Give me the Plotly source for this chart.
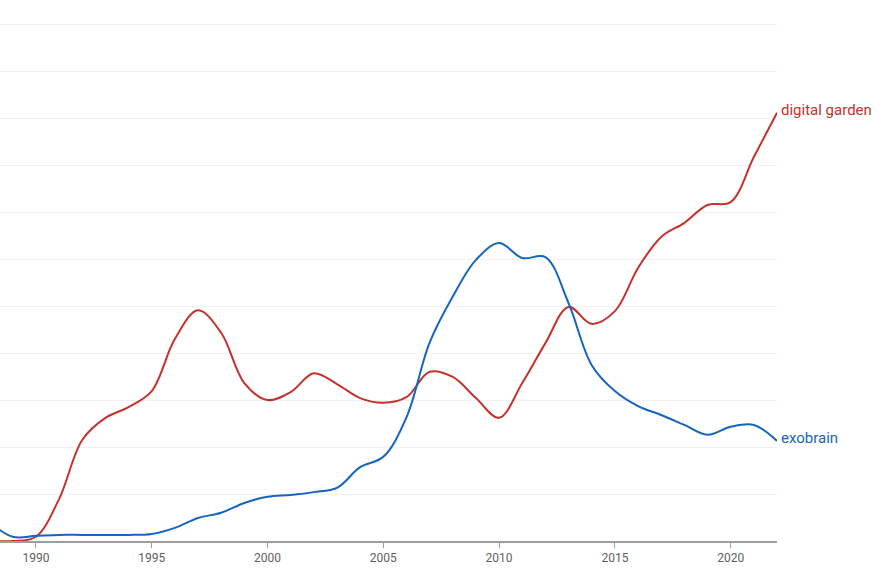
import plotly.graph_objects as go

years = list(range(1988, 2023))

digital_garden = [0.00, 0.00, 0.09, 0.89, 2.15, 2.62, 2.85, 3.19, 4.30, 4.91,
                  4.43, 3.36, 3.00, 3.17, 3.57, 3.34, 3.04, 2.94, 3.06, 3.60,
                  3.49, 3.04, 2.62, 3.36, 4.21, 4.98, 4.62, 4.89, 5.81, 6.47,
                  6.77, 7.15, 7.21, 8.17, 9.11]

exobrain = [0.40, 0.09, 0.11, 0.13, 0.13, 0.13, 0.13, 0.15, 0.28, 0.49,
            0.60, 0.81, 0.94, 0.98, 1.04, 1.13, 1.57, 1.79, 2.63, 4.22,
            5.20, 5.98, 6.34, 6.02, 6.04, 5.06, 3.74, 3.19, 2.87, 2.68,
            2.47, 2.26, 2.43, 2.47, 2.13]

series = [("digital garden", digital_garden, "#c5322d"),
          ("exobrain", exobrain, "#1565c0")]

x_ticks = [1990, 1995, 2000, 2005, 2010, 2015, 2020]

fig = go.Figure()
for name, vals, color in series:
    fig.add_trace(go.Scatter(
        x=years, y=vals, mode="lines", name=name,
        line=dict(color=color, width=2, shape="spline", smoothing=1.0),
        hoverinfo="skip"))
    fig.add_annotation(x=years[-1], y=vals[-1], text=name, showarrow=False,
                       xanchor="left", yanchor="middle", xshift=2, yshift=3,
                       font=dict(family="Roboto", size=15, color=color))

fig.update_layout(
    width=891, height=572,
    margin=dict(l=0, r=114, t=19, b=31),
    paper_bgcolor="white", plot_bgcolor="white",
    showlegend=False,
    font=dict(family="Roboto", size=12, color="#5f5f5f"),
    xaxis=dict(range=[1988.45, 2022], tickvals=x_ticks,
               showgrid=False, zeroline=False,
               showline=True, linecolor="#9e9e9e", linewidth=1.5,
               ticks="outside", ticklen=5, tickcolor="#9e9e9e", tickwidth=1,
               tickfont=dict(family="Roboto", size=12, color="#5f5f5f")),
    yaxis=dict(range=[0, 522 / 47], tickvals=list(range(0, 12)),
               showticklabels=False,
               showgrid=True, gridcolor="#f1f1f1", gridwidth=1,
               zeroline=False, showline=False),
)

fig.write_html("out.html", config={"displayModeBar": False},
               post_script="document.body.style.margin='0';document.body.style.overflow='hidden';")
